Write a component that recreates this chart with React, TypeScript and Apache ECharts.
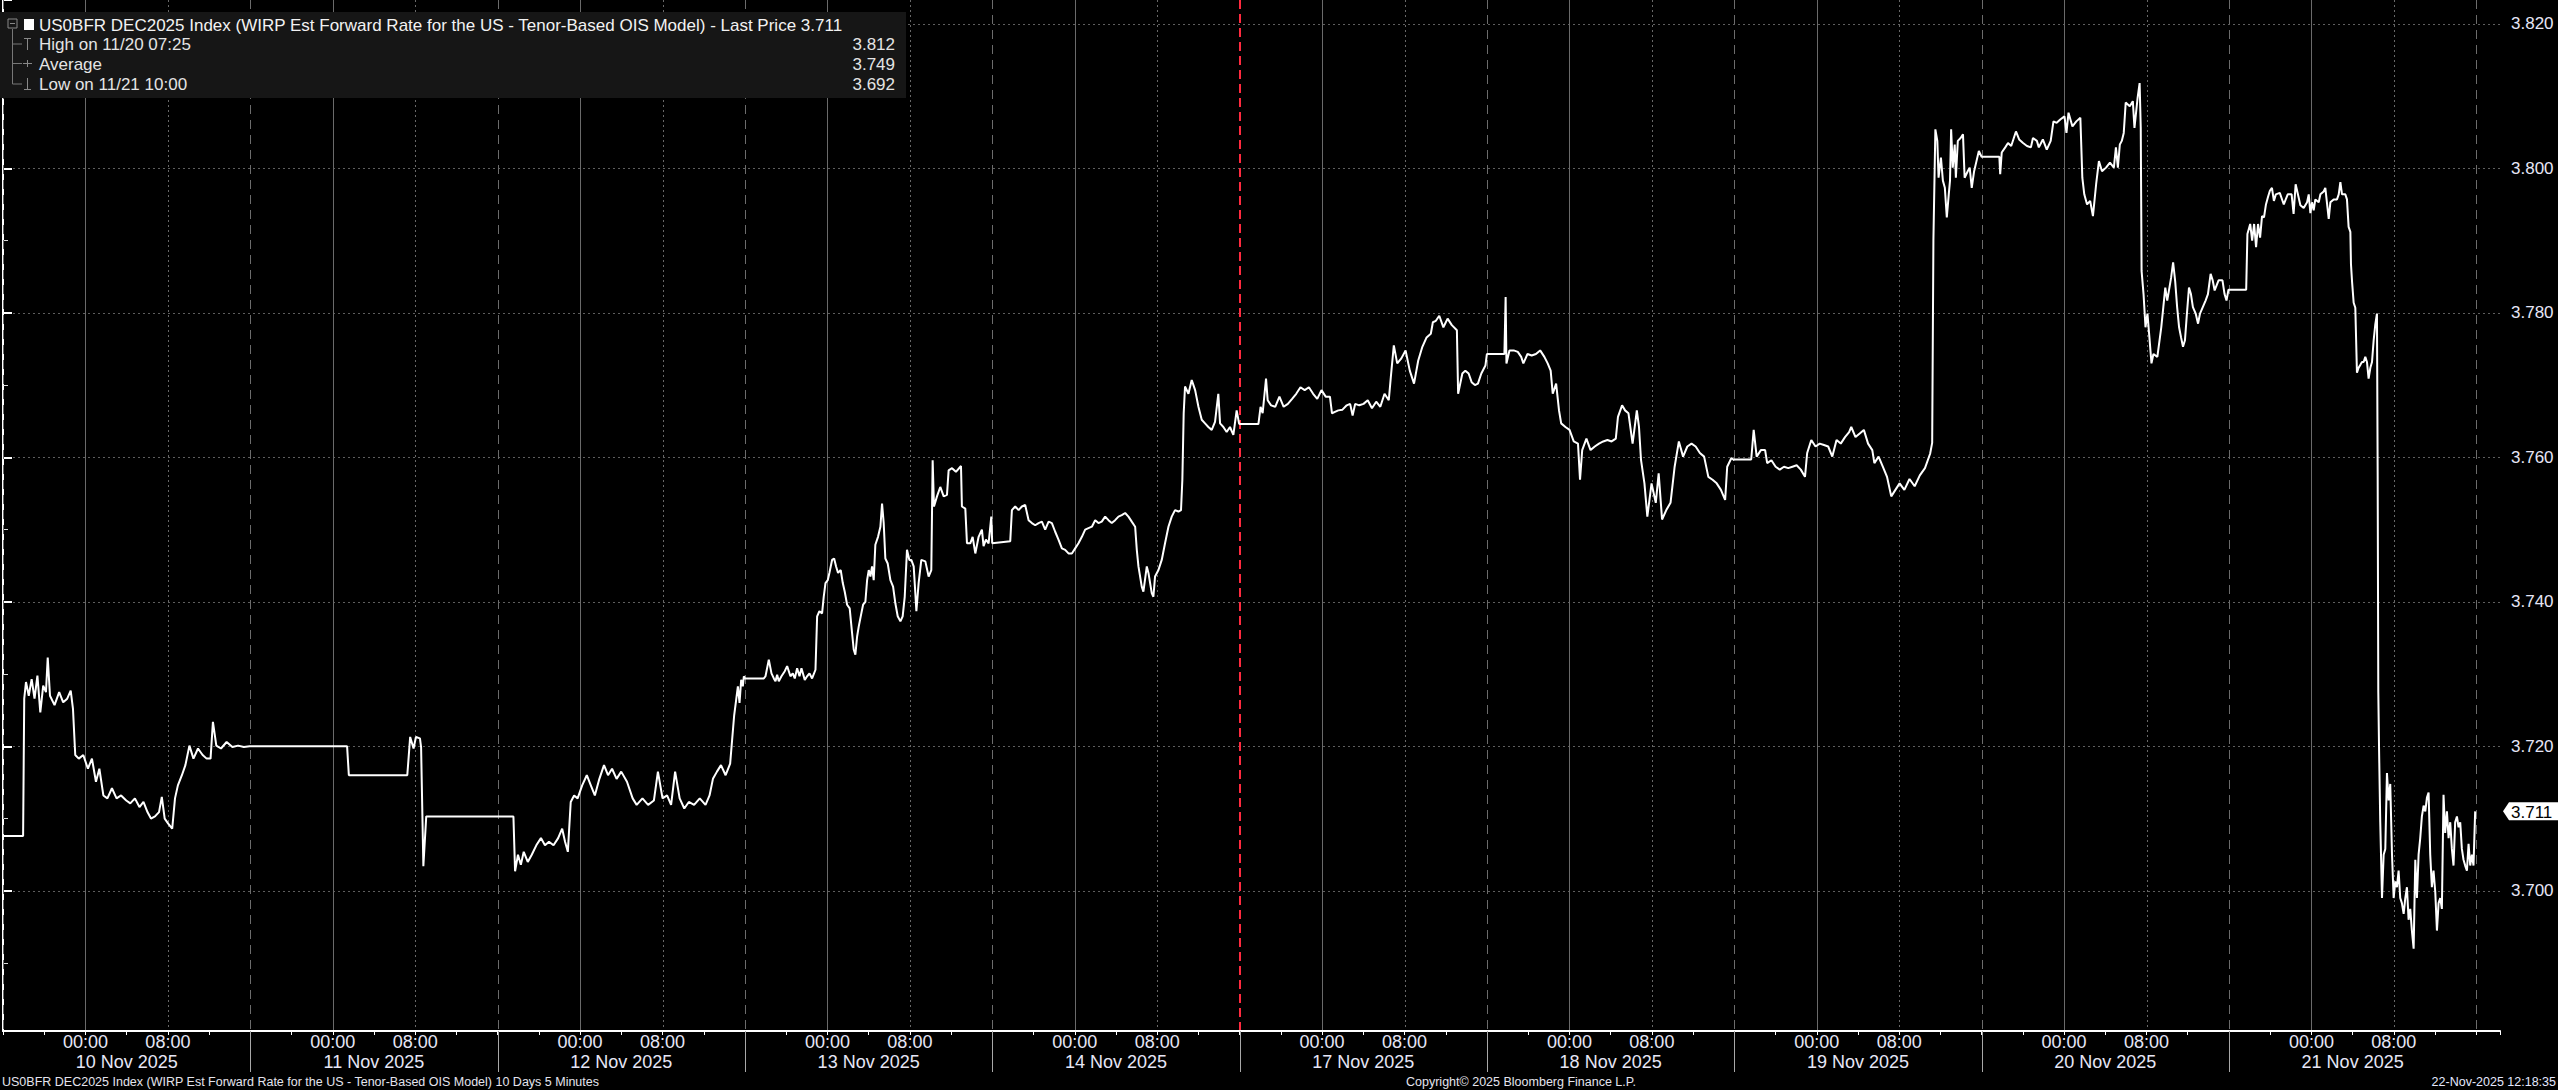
import React, { useEffect, useRef } from 'react';
import * as echarts from 'echarts';

// ---------- data ----------
const DATE_LABELS = ['10 Nov 2025', '11 Nov 2025', '12 Nov 2025', '13 Nov 2025', '14 Nov 2025',
  '17 Nov 2025', '18 Nov 2025', '19 Nov 2025', '20 Nov 2025', '21 Nov 2025'];
const TIME_LABELS: Record<number, string> = { 8: '00:00', 16: '08:00' };
const WEEKEND_AFTER_DAY = 5; // boundary between 14 Nov and 17 Nov
const HOURS_PER_DAY = 24;

const TITLE = 'US0BFR DEC2025 Index (WIRP Est Forward Rate for the US - Tenor-Based OIS Model) - Last Price 3.711';
const STAT_LABELS = ['High on 11/20 07:25', 'Average', 'Low on 11/21 10:00'];
const STAT_VALUES = [3.812, 3.749, 3.692];
const LAST_PRICE = 3.711;
const FOOTER_LEFT = 'US0BFR DEC2025 Index (WIRP Est Forward Rate for the US - Tenor-Based OIS Model) 10 Days 5 Minutes';
const FOOTER_CENTER = 'Copyright\u00A9 2025 Bloomberg Finance L.P.';
const FOOTER_RIGHT = '22-Nov-2025 12:18:35';

// [hours since session start (16:00 prior day), value]
const nov10: [number, number][] = [[0,3.7076],[1.95,3.7076],[2.06,3.7266],[2.23,3.7289],[2.5,3.727],[2.78,3.7293],[3.06,3.7266],[3.34,3.7298],[3.62,3.7247],[3.9,3.7284],[4.17,3.7275],[4.34,3.7323],[4.56,3.727],[5.0,3.7257],[5.45,3.7275],[5.84,3.7261],[6.23,3.7266],[6.57,3.7277],[6.79,3.7252],[7.01,3.7188],[7.35,3.7183],[7.79,3.7188],[8.24,3.7169],[8.63,3.7183],[9.02,3.7151],[9.35,3.7169],[9.74,3.7132],[10.13,3.7128],[10.57,3.7142],[11.02,3.7128],[11.46,3.7132],[11.96,3.7125],[12.35,3.7121],[12.8,3.7128],[13.24,3.7116],[13.63,3.7123],[14.02,3.7109],[14.36,3.71],[14.75,3.7103],[15.14,3.7109],[15.41,3.713],[15.69,3.71],[16.03,3.7093],[16.42,3.7086],[16.69,3.7128],[16.97,3.7146],[17.36,3.716],[17.7,3.7174],[18.09,3.7201],[18.48,3.7183],[18.92,3.7197],[19.37,3.7188],[19.76,3.7183],[20.14,3.7183],[20.37,3.7234],[20.7,3.7201],[21.15,3.7197],[21.7,3.7206],[22.26,3.7199],[22.82,3.7201],[23.37,3.7199],[23.93,3.72]];
const nov11: [number, number][] = [[0,3.72],[9.39,3.72],[9.56,3.716],[15.23,3.716],[15.51,3.7213],[15.84,3.7197],[16.07,3.7213],[16.46,3.7211],[16.57,3.7199],[16.79,3.7034],[17.07,3.7103],[23.99,3.7103]];
const nov12: [number, number][] = [[0,3.7103],[1.53,3.7103],[1.69,3.7027],[1.97,3.705],[2.25,3.7036],[2.53,3.7054],[2.92,3.704],[3.31,3.705],[3.75,3.7063],[4.2,3.7073],[4.59,3.7063],[4.98,3.7068],[5.42,3.7063],[5.87,3.7073],[6.26,3.7086],[6.54,3.7068],[6.81,3.7054],[7.09,3.7123],[7.42,3.7132],[7.76,3.7128],[8.2,3.7146],[8.65,3.716],[9.04,3.7146],[9.43,3.7132],[9.87,3.7155],[10.32,3.7174],[10.71,3.716],[11.1,3.7169],[11.54,3.7155],[11.99,3.7165],[12.55,3.7151],[13.1,3.7128],[13.49,3.7119],[14.05,3.7128],[14.6,3.7119],[15.16,3.7125],[15.55,3.7165],[16.0,3.7128],[16.44,3.7132],[16.83,3.7119],[17.22,3.7165],[17.66,3.7128],[18.11,3.7114],[18.55,3.7123],[19.06,3.7119],[19.61,3.7128],[20.17,3.7119],[20.56,3.7132],[20.89,3.7155],[21.28,3.7165],[21.67,3.7174],[22.12,3.716],[22.56,3.7176],[22.95,3.7243],[23.15,3.7265],[23.31,3.7283],[23.47,3.726],[23.63,3.7292],[23.79,3.7283],[23.89,3.7297]];
const nov13: [number, number][] = [[0,3.7294],[1.83,3.7294],[1.99,3.7297],[2.31,3.732],[2.57,3.7301],[2.8,3.7294],[2.96,3.729],[3.12,3.7299],[3.28,3.729],[3.54,3.7297],[3.86,3.7304],[4.09,3.7311],[4.41,3.7297],[4.64,3.7301],[4.83,3.7294],[5.06,3.7308],[5.29,3.7297],[5.48,3.7308],[5.8,3.7292],[6.03,3.7297],[6.26,3.7301],[6.51,3.7294],[6.84,3.7306],[7.0,3.738],[7.22,3.7387],[7.48,3.7384],[7.64,3.7407],[7.81,3.7426],[8.03,3.743],[8.19,3.744],[8.45,3.7458],[8.65,3.746],[8.84,3.7449],[9.03,3.744],[9.29,3.7444],[9.49,3.7426],[9.68,3.7414],[9.91,3.7396],[10.16,3.7391],[10.39,3.7357],[10.55,3.7334],[10.71,3.7327],[10.88,3.7352],[11.04,3.7366],[11.26,3.7382],[11.46,3.7396],[11.68,3.74],[11.85,3.743],[12.01,3.7444],[12.17,3.7435],[12.33,3.7449],[12.49,3.743],[12.65,3.7479],[12.91,3.749],[13.14,3.7504],[13.3,3.7536],[13.46,3.7509],[13.62,3.746],[13.85,3.7453],[14.11,3.743],[14.37,3.7421],[14.59,3.7398],[14.82,3.738],[15.08,3.7373],[15.3,3.738],[15.5,3.7407],[15.72,3.7472],[15.95,3.7458],[16.14,3.7458],[16.37,3.7449],[16.53,3.7412],[16.63,3.7387],[16.85,3.7426],[17.11,3.7458],[17.5,3.7456],[17.82,3.7435],[18.08,3.7444],[18.21,3.7596],[18.34,3.7532],[18.63,3.7546],[18.95,3.7559],[19.28,3.7546],[19.6,3.7548],[19.76,3.7582],[20.09,3.7585],[20.47,3.758],[20.96,3.7588],[21.05,3.7532],[21.38,3.7529],[21.54,3.7481],[21.86,3.7481],[22.09,3.749],[22.35,3.7467],[22.67,3.749],[22.99,3.75],[23.15,3.7477],[23.38,3.7486],[23.64,3.7481],[23.9,3.7518],[23.99,3.7481]];
const nov14: [number, number][] = [[0,3.7481],[1.74,3.7484],[1.9,3.7527],[2.22,3.7532],[2.55,3.7527],[2.87,3.7532],[3.19,3.7534],[3.52,3.7513],[3.84,3.7509],[4.16,3.7506],[4.49,3.7509],[4.81,3.7511],[5.13,3.75],[5.46,3.7511],[5.78,3.7509],[6.1,3.7497],[6.42,3.7486],[6.75,3.7474],[7.07,3.7472],[7.39,3.7467],[7.72,3.7467],[8.04,3.7474],[8.36,3.7481],[8.69,3.749],[9.01,3.75],[9.33,3.7502],[9.66,3.7504],[9.98,3.7513],[10.3,3.7509],[10.62,3.7511],[10.95,3.7518],[11.27,3.7513],[11.59,3.7509],[11.92,3.7513],[12.24,3.7518],[12.56,3.752],[12.89,3.7523],[13.21,3.7518],[13.53,3.7511],[13.86,3.7504],[14.02,3.7472],[14.18,3.7449],[14.5,3.7421],[14.66,3.7414],[14.99,3.7449],[15.15,3.744],[15.47,3.7412],[15.63,3.7407],[15.79,3.7435],[16.12,3.7444],[16.44,3.7458],[16.76,3.7481],[17.09,3.7504],[17.41,3.7518],[17.73,3.7527],[18.06,3.7525],[18.31,3.7527],[18.44,3.7569],[18.57,3.7661],[18.7,3.7698],[19.03,3.7688],[19.35,3.7707],[19.68,3.7693],[20.0,3.767],[20.32,3.7652],[20.64,3.7647],[20.96,3.7642],[21.29,3.7638],[21.61,3.7649],[21.93,3.7688],[22.1,3.7647],[22.42,3.7642],[22.74,3.7635],[23.06,3.7642],[23.39,3.7631],[23.71,3.7665],[23.94,3.7647]];
const nov17: [number, number][] = [[0,3.7646],[1.82,3.7646],[2.03,3.767],[2.23,3.7661],[2.56,3.7709],[2.72,3.7679],[3.05,3.7672],[3.45,3.767],[3.86,3.7684],[4.27,3.767],[4.68,3.7674],[5.09,3.7681],[5.49,3.7688],[5.9,3.7697],[6.31,3.7693],[6.72,3.7697],[7.13,3.7688],[7.53,3.7681],[7.94,3.7693],[8.35,3.7684],[8.76,3.7684],[8.96,3.7661],[9.25,3.7663],[9.57,3.7665],[9.98,3.7666],[10.39,3.7672],[10.72,3.7674],[10.96,3.7658],[11.21,3.7674],[11.61,3.7672],[12.02,3.7674],[12.43,3.7679],[12.84,3.7668],[13.25,3.7677],[13.65,3.767],[14.06,3.7688],[14.47,3.7679],[14.67,3.7711],[14.96,3.7755],[15.29,3.773],[15.69,3.7737],[16.1,3.7748],[16.51,3.772],[16.92,3.7702],[17.33,3.7734],[17.73,3.7753],[18.14,3.7766],[18.55,3.7771],[18.75,3.7787],[19.04,3.7789],[19.37,3.7796],[19.77,3.778],[20.18,3.7792],[20.59,3.7783],[21.08,3.7776],[21.2,3.7688],[21.61,3.7716],[21.9,3.772],[22.22,3.7716],[22.51,3.7704],[22.83,3.77],[23.12,3.7702],[23.45,3.7716],[23.85,3.7727],[23.99,3.7743]];
const nov18: [number, number][] = [[0,3.7743],[1.69,3.7743],[1.81,3.7822],[1.89,3.773],[2.18,3.7748],[2.59,3.7748],[2.99,3.7746],[3.32,3.7739],[3.53,3.773],[3.93,3.7743],[4.34,3.7741],[4.75,3.7743],[5.16,3.7748],[5.57,3.7739],[5.89,3.773],[6.18,3.772],[6.38,3.7688],[6.71,3.7702],[6.99,3.7665],[7.2,3.7647],[7.61,3.7642],[8.01,3.7638],[8.42,3.7622],[8.83,3.7619],[9.03,3.7569],[9.24,3.761],[9.65,3.7626],[10.05,3.761],[10.46,3.7615],[10.87,3.7619],[11.28,3.7622],[11.69,3.7624],[12.09,3.7622],[12.5,3.7626],[12.71,3.7656],[13.11,3.7672],[13.4,3.7665],[13.73,3.7661],[14.13,3.7619],[14.54,3.7665],[14.75,3.7642],[14.95,3.7596],[15.28,3.7564],[15.56,3.7518],[15.97,3.7564],[16.38,3.7537],[16.66,3.7578],[16.99,3.7514],[17.4,3.7527],[17.81,3.7537],[18.21,3.7587],[18.62,3.7622],[19.03,3.7601],[19.44,3.7615],[19.85,3.7619],[20.25,3.7615],[20.66,3.7606],[21.07,3.7601],[21.48,3.7573],[21.89,3.7569],[22.29,3.7564],[22.7,3.7555],[23.11,3.7541],[23.31,3.7587],[23.72,3.7599],[23.99,3.7596]];
const nov19: [number, number][] = [[0,3.7597],[1.64,3.7597],[1.88,3.7638],[2.17,3.7601],[2.58,3.761],[2.99,3.761],[3.19,3.7592],[3.6,3.7596],[4.01,3.7587],[4.41,3.7583],[4.82,3.7587],[5.23,3.7585],[5.64,3.7587],[6.05,3.7589],[6.45,3.7583],[6.86,3.7573],[7.07,3.7606],[7.47,3.7624],[7.88,3.7615],[8.29,3.7619],[8.7,3.7617],[9.11,3.7615],[9.51,3.7601],[9.92,3.7624],[10.33,3.7619],[10.74,3.7628],[11.14,3.7635],[11.35,3.7642],[11.76,3.7628],[12.17,3.7633],[12.57,3.7638],[12.98,3.7619],[13.39,3.761],[13.59,3.7592],[14.0,3.7601],[14.41,3.7587],[14.82,3.7573],[15.23,3.7546],[15.63,3.7555],[16.04,3.7564],[16.5,3.7555],[17.0,3.757],[17.5,3.756],[18.0,3.7575],[18.5,3.7585],[19.0,3.7605],[19.2,3.762],[19.32,3.79],[19.51,3.8054],[19.7,3.8038],[19.82,3.7987],[20.05,3.8015],[20.24,3.7983],[20.43,3.7973],[20.62,3.7932],[20.81,3.7964],[20.93,3.7983],[21.04,3.8054],[21.2,3.8001],[21.39,3.8033],[21.5,3.7987],[21.69,3.8038],[21.96,3.8042],[22.19,3.8047],[22.35,3.7987],[22.65,3.7996],[22.84,3.8001],[23.04,3.7973],[23.27,3.7996],[23.5,3.801],[23.73,3.8024],[23.99,3.8016]];
const nov20: [number, number][] = [[0,3.8016],[1.72,3.8016],[1.8,3.7992],[1.95,3.8022],[2.29,3.8029],[2.56,3.8035],[2.87,3.8031],[3.33,3.8051],[3.64,3.804],[4.02,3.8035],[4.4,3.8031],[4.78,3.8029],[4.98,3.8042],[5.36,3.8038],[5.55,3.8029],[5.94,3.804],[6.32,3.8026],[6.7,3.8038],[6.97,3.8065],[7.28,3.8063],[7.66,3.8068],[8.04,3.8072],[8.23,3.8049],[8.43,3.8077],[8.81,3.8058],[9.19,3.8065],[9.58,3.807],[9.77,3.7987],[9.96,3.7964],[10.23,3.795],[10.53,3.7955],[10.8,3.7934],[11.11,3.7978],[11.38,3.801],[11.68,3.7996],[12.07,3.8001],[12.45,3.8008],[12.83,3.8001],[13.03,3.8029],[13.22,3.8001],[13.41,3.8033],[13.6,3.8038],[13.79,3.8049],[13.98,3.8091],[14.37,3.8086],[14.67,3.8093],[14.83,3.8056],[15.13,3.8097],[15.33,3.8118],[15.44,3.8056],[15.52,3.7858],[15.71,3.7826],[15.9,3.778],[16.09,3.7799],[16.28,3.7766],[16.48,3.773],[16.67,3.7743],[17.05,3.7739],[17.43,3.778],[17.63,3.7808],[17.82,3.7835],[18.01,3.7817],[18.39,3.7849],[18.58,3.787],[18.78,3.7844],[18.97,3.7808],[19.16,3.778],[19.35,3.7766],[19.54,3.7753],[19.73,3.7762],[19.92,3.7799],[20.12,3.7835],[20.31,3.7826],[20.5,3.7808],[20.77,3.7799],[21.0,3.7785],[21.19,3.7799],[21.46,3.7808],[21.73,3.7817],[21.96,3.7826],[22.22,3.7854],[22.42,3.7845],[22.61,3.7831],[22.99,3.7845],[23.37,3.7845],[23.57,3.7826],[23.76,3.7817],[23.95,3.7832]];
const nov21: [number, number][] = [[0,3.7832],[1.67,3.7832],[1.79,3.7909],[2.06,3.7923],[2.25,3.79],[2.44,3.7923],[2.63,3.7891],[2.82,3.7923],[3.02,3.7904],[3.21,3.7934],[3.4,3.7932],[3.59,3.795],[3.78,3.796],[3.97,3.7969],[4.17,3.7973],[4.36,3.7955],[4.55,3.7964],[4.93,3.7966],[5.32,3.795],[5.7,3.7964],[6.08,3.7964],[6.27,3.7937],[6.47,3.7978],[6.93,3.7949],[7.25,3.7945],[7.58,3.7953],[7.74,3.7964],[7.9,3.7938],[8.06,3.7953],[8.22,3.7942],[8.38,3.7957],[8.71,3.7953],[8.87,3.7964],[9.19,3.7968],[9.35,3.7973],[9.68,3.793],[9.84,3.7953],[10.16,3.7957],[10.48,3.7957],[10.65,3.7964],[10.81,3.7981],[10.97,3.7964],[11.29,3.7964],[11.45,3.7957],[11.61,3.7919],[11.78,3.7912],[11.84,3.7867],[11.94,3.7844],[12.1,3.7814],[12.26,3.7807],[12.42,3.7717],[12.58,3.7724],[12.75,3.7728],[12.91,3.7732],[13.07,3.7732],[13.23,3.7739],[13.39,3.7732],[13.55,3.7709],[13.72,3.7724],[13.88,3.7732],[14.04,3.7762],[14.2,3.7784],[14.36,3.7799],[14.43,3.7575],[14.49,3.7275],[14.56,3.72],[14.68,3.7095],[14.85,3.699],[15.01,3.705],[15.17,3.7058],[15.33,3.7163],[15.49,3.7125],[15.65,3.7148],[15.82,3.705],[15.98,3.699],[16.14,3.7013],[16.3,3.7005],[16.46,3.7028],[16.62,3.699],[16.78,3.6983],[16.95,3.6968],[17.11,3.699],[17.27,3.7005],[17.43,3.696],[17.59,3.6975],[17.75,3.6945],[17.92,3.692],[18.08,3.7043],[18.24,3.699],[18.4,3.705],[18.56,3.7073],[18.72,3.7103],[18.89,3.7118],[19.05,3.711],[19.21,3.7129],[19.37,3.7136],[19.53,3.705],[19.69,3.7005],[19.85,3.7028],[20.02,3.6998],[20.18,3.6945],[20.34,3.6983],[20.5,3.699],[20.66,3.6975],[20.82,3.7133],[20.98,3.708],[21.15,3.711],[21.31,3.7073],[21.47,3.7095],[21.63,3.7058],[21.79,3.7035],[21.95,3.7095],[22.12,3.7103],[22.28,3.7088],[22.44,3.7095],[22.6,3.7058],[22.76,3.7043],[22.92,3.7035],[23.09,3.7028],[23.25,3.7065],[23.41,3.7035],[23.57,3.705],[23.73,3.7035],[23.89,3.711]];

const DAYS = [nov10, nov11, nov12, nov13, nov14, nov17, nov18, nov19, nov20, nov21];

// axis ranges
const X_MAX = 242.3;
const Y_MIN = 3.6806;
const Y_MAX = 3.8233;

// ---------- derived ----------
const SERIES_DATA: [number, number][] = [];
DAYS.forEach((day, i) => day.forEach(([h, v]) => SERIES_DATA.push([i * HOURS_PER_DAY + h, v])));

// vertical grid: kind 0 = session boundary, 1 = weekend boundary, 2 = 00:00, 3 = 08:00
const V_GRID: [number, number, number][] = [];
for (let i = 0; i <= DAYS.length; i++) {
  V_GRID.push([i * HOURS_PER_DAY, Y_MIN, i === WEEKEND_AFTER_DAY ? 1 : 0]);
}
for (let i = 0; i < DAYS.length; i++) {
  Object.keys(TIME_LABELS).forEach((k) => {
    const h = Number(k);
    V_GRID.push([i * HOURS_PER_DAY + h, Y_MIN, h === 8 ? 2 : 3]);
  });
}
const SEPARATORS: [number, number][] = [];
for (let i = 1; i < DAYS.length; i++) SEPARATORS.push([i * HOURS_PER_DAY, Y_MIN]);

const GRID_STYLES = [
  { stroke: '#6c6c6c', lineWidth: 1, lineDash: [9, 6] },
  { stroke: '#ff2a3f', lineWidth: 2, lineDash: [9, 5] },
  { stroke: '#6a6a6a', lineWidth: 1 },
  { stroke: '#686868', lineWidth: 1, lineDash: [2, 3] },
];

const FONT = '"Liberation Sans", Arial, sans-serif';
const LABEL_COLOR = '#e6e6f6';

function buildOption(): any {
  const legendGraphics: any[] = [
    { type: 'rect', x: 0, y: 12, shape: { width: 906, height: 86 }, style: { fill: '#161616' }, z: 10 },
    { type: 'rect', x: 8, y: 19, shape: { width: 9, height: 9 }, style: { fill: 'none', stroke: '#888', lineWidth: 1 }, z: 11 },
    { type: 'line', shape: { x1: 10, y1: 23.5, x2: 15, y2: 23.5 }, style: { stroke: '#888', lineWidth: 1 }, z: 11 },
    { type: 'rect', x: 24, y: 19, shape: { width: 10, height: 11 }, style: { fill: '#ffffff' }, z: 11 },
    { type: 'line', shape: { x1: 12.5, y1: 29, x2: 12.5, y2: 84 }, style: { stroke: '#777', lineWidth: 1 }, z: 11 },
    { type: 'line', shape: { x1: 12.5, y1: 44, x2: 22, y2: 44 }, style: { stroke: '#777', lineWidth: 1 }, z: 11 },
    { type: 'line', shape: { x1: 12.5, y1: 63.5, x2: 22, y2: 63.5 }, style: { stroke: '#777', lineWidth: 1 }, z: 11 },
    { type: 'line', shape: { x1: 12.5, y1: 84, x2: 22, y2: 84 }, style: { stroke: '#777', lineWidth: 1 }, z: 11 },
    { type: 'line', shape: { x1: 27.5, y1: 38, x2: 27.5, y2: 50 }, style: { stroke: '#888', lineWidth: 1 }, z: 11 },
    { type: 'line', shape: { x1: 24, y1: 38.5, x2: 31, y2: 38.5 }, style: { stroke: '#888', lineWidth: 1 }, z: 11 },
    { type: 'line', shape: { x1: 23, y1: 63.5, x2: 32, y2: 63.5 }, style: { stroke: '#888', lineWidth: 1 }, z: 11 },
    { type: 'line', shape: { x1: 27.5, y1: 60, x2: 27.5, y2: 67 }, style: { stroke: '#888', lineWidth: 1 }, z: 11 },
    { type: 'line', shape: { x1: 27.5, y1: 78, x2: 27.5, y2: 90 }, style: { stroke: '#888', lineWidth: 1 }, z: 11 },
    { type: 'line', shape: { x1: 24, y1: 89.5, x2: 31, y2: 89.5 }, style: { stroke: '#888', lineWidth: 1 }, z: 11 },
    { type: 'text', x: 39, y: 25, z: 11, style: { text: TITLE, fill: '#f2f2f2', font: `17px ${FONT}`, verticalAlign: 'middle' } },
  ];
  const rowY = [44, 64, 84];
  STAT_LABELS.forEach((lab, i) => {
    legendGraphics.push({ type: 'text', x: 39, y: rowY[i], z: 11, style: { text: lab, fill: '#e4e4e4', font: `17px ${FONT}`, verticalAlign: 'middle' } });
    legendGraphics.push({ type: 'text', x: 895, y: rowY[i], z: 11, style: { text: STAT_VALUES[i].toFixed(3), fill: '#e4e4e4', font: `17px ${FONT}`, verticalAlign: 'middle', align: 'right' } });
  });
  const footer: any[] = [
    { type: 'text', x: 2, y: 1082, style: { text: FOOTER_LEFT, fill: '#e4e4ee', font: `12.5px ${FONT}`, verticalAlign: 'middle' } },
    { type: 'text', x: 1521, y: 1082, style: { text: FOOTER_CENTER, fill: '#e4e4ee', font: `12.5px ${FONT}`, verticalAlign: 'middle', align: 'center' } },
    { type: 'text', x: 2556, y: 1082, style: { text: FOOTER_RIGHT, fill: '#e4e8ff', font: `12.5px ${FONT}`, verticalAlign: 'middle', align: 'right' } },
  ];

  return {
    animation: false,
    backgroundColor: '#000000',
    textStyle: { fontFamily: FONT },
    grid: { left: 0, top: 0, right: 58, bottom: 59, containLabel: false },
    xAxis: {
      type: 'value',
      min: 0,
      max: X_MAX,
      interval: 4,
      position: 'bottom',
      axisLine: { show: true, lineStyle: { color: '#ffffff', width: 2 } },
      axisTick: { show: true, length: 4, lineStyle: { color: '#ffffff', width: 1 } },
      splitLine: { show: false },
      axisLabel: {
        show: true,
        margin: 1,
        color: LABEL_COLOR,
        fontSize: 18,
        lineHeight: 20,
        fontFamily: FONT,
        formatter: (v: number) => {
          const r = Math.round(v);
          if (Math.abs(r - v) > 0.01) return '';
          const day = Math.floor(r / HOURS_PER_DAY);
          const h = r % HOURS_PER_DAY;
          if (day >= DAYS.length) return '';
          if (TIME_LABELS[h]) return TIME_LABELS[h];
          if (h === 12) return '\n' + DATE_LABELS[day];
          return '';
        },
      },
    },
    yAxis: {
      type: 'value',
      position: 'right',
      min: Y_MIN,
      max: Y_MAX,
      splitNumber: 7,
      scale: true,
      axisLine: { show: true, lineStyle: { color: '#ffffff', width: 2 } },
      axisTick: { show: true, length: 9, lineStyle: { color: '#ffffff', width: 2 } },
      minorTick: { show: true, splitNumber: 2, length: 5, lineStyle: { color: '#dddddd', width: 1 } },
      splitLine: { show: true, showMinLine: false, showMaxLine: false, lineStyle: { color: '#5e5e5e', width: 1, type: [2, 3] } },
      axisLabel: {
        show: true,
        showMinLabel: false,
        showMaxLabel: false,
        margin: 11,
        color: LABEL_COLOR,
        fontSize: 17,
        fontFamily: FONT,
        formatter: (v: number) => v.toFixed(3),
      },
    },
    graphic: [...legendGraphics, ...footer],
    series: [
      {
        type: 'custom',
        name: 'vgrid',
        silent: true,
        z: 1,
        clip: false,
        data: V_GRID,
        renderItem: (_p: any, api: any) => {
          const x = api.value(0);
          const kind = api.value(2);
          const top = api.coord([x, Y_MAX]);
          const bot = api.coord([x, Y_MIN]);
          const px = Math.round(top[0]) + (kind === 1 ? 0 : 0.5);
          return {
            type: 'line',
            shape: { x1: px, y1: top[1], x2: px, y2: bot[1] - 1 },
            style: { ...GRID_STYLES[kind], fill: null },
          };
        },
      },
      {
        type: 'custom',
        name: 'separators',
        silent: true,
        z: 1,
        clip: false,
        data: SEPARATORS,
        renderItem: (_p: any, api: any) => {
          const bot = api.coord([api.value(0), Y_MIN]);
          const px = Math.round(bot[0]) + 0.5;
          return {
            type: 'line',
            shape: { x1: px, y1: bot[1], x2: px, y2: bot[1] + 41 },
            style: { stroke: '#a8a8a8', lineWidth: 1, fill: null },
          };
        },
      },
      {
        type: 'line',
        name: 'US0BFR DEC2025',
        data: SERIES_DATA,
        showSymbol: false,
        symbol: 'none',
        silent: true,
        z: 3,
        lineStyle: { color: '#ffffff', width: 2 },
      },
      {
        type: 'custom',
        name: 'lastPrice',
        silent: true,
        z: 5,
        clip: false,
        data: [[X_MAX, LAST_PRICE]],
        renderItem: (_p: any, api: any) => {
          const p = api.coord([api.value(0), api.value(1)]);
          const x0 = p[0] + 3;
          const y0 = p[1];
          return {
            type: 'group',
            children: [
              {
                type: 'polygon',
                shape: { points: [[x0, y0], [x0 + 6, y0 - 9], [x0 + 56, y0 - 9], [x0 + 56, y0 + 9], [x0 + 6, y0 + 9]] },
                style: { fill: '#ffffff' },
              },
              {
                type: 'text',
                x: x0 + 8,
                y: y0 + 1,
                style: { text: LAST_PRICE.toFixed(3), fill: '#000000', font: `17px ${FONT}`, verticalAlign: 'middle' },
              },
            ],
          };
        },
      },
    ],
  };
}

export default function App() {
  const ref = useRef<HTMLDivElement>(null);
  useEffect(() => {
    if (!ref.current) return;
    const chart = echarts.init(ref.current, undefined, { renderer: 'svg' });
    chart.setOption(buildOption());
    return () => chart.dispose();
  }, []);
  return (
    <div
      ref={ref}
      style={{ position: 'fixed', left: 0, top: 0, width: 2558, height: 1090, background: '#000' }}
    />
  );
}
